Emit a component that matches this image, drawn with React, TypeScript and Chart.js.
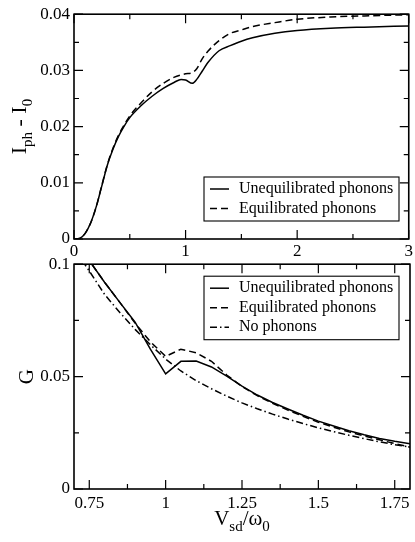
import React, { useEffect, useRef } from "react";
import { Chart, registerables } from "chart.js";
Chart.register(...registerables);

// ---------- data: top panel (I_ph - I_0 vs V_sd/omega_0) ----------
const topX = [0, 0.05, 0.1, 0.15, 0.2, 0.25, 0.3, 0.35, 0.4, 0.45, 0.5, 0.6, 0.7, 0.8, 0.9, 0.96, 1.0, 1.06, 1.1, 1.15, 1.2, 1.3, 1.4, 1.5, 1.6, 1.8, 2.0, 2.3, 2.6, 3.0];
const topUneq = [0, 0.0001, 0.001, 0.0029, 0.0058, 0.0095, 0.0132, 0.016, 0.0183, 0.0201, 0.0216, 0.0237, 0.0254, 0.0268, 0.0279, 0.0284, 0.0283, 0.0277, 0.0284, 0.0299, 0.0314, 0.0335, 0.0344, 0.0352, 0.0358, 0.0366, 0.0371, 0.0375, 0.0377, 0.0379];
const topEq = [0, 0.0001, 0.001, 0.0029, 0.0058, 0.0096, 0.0133, 0.0162, 0.0185, 0.0203, 0.0219, 0.0242, 0.0262, 0.0277, 0.0288, 0.0292, 0.0294, 0.0296, 0.0303, 0.0321, 0.0334, 0.0353, 0.0366, 0.0372, 0.0378, 0.0385, 0.0391, 0.0395, 0.0397, 0.0399];

// ---------- data: bottom panel (G vs V_sd/omega_0) ----------
const botX = [0.7, 0.75, 0.8, 0.85, 0.9, 0.95, 1.0, 1.05, 1.1, 1.15, 1.2, 1.25, 1.3, 1.35, 1.4, 1.45, 1.5, 1.55, 1.6, 1.65, 1.7, 1.75, 1.8];
const botUneq = [0.112, 0.1016, 0.092, 0.083, 0.0742, 0.0622, 0.0512, 0.0568, 0.0569, 0.0543, 0.0502, 0.0458, 0.0418, 0.0385, 0.0356, 0.0328, 0.0302, 0.028, 0.0259, 0.0241, 0.0225, 0.0212, 0.0201];
const botEq = [0.112, 0.1016, 0.092, 0.083, 0.0738, 0.0655, 0.059, 0.0622, 0.0606, 0.0568, 0.0507, 0.0456, 0.0415, 0.0381, 0.0351, 0.0323, 0.0297, 0.0275, 0.0254, 0.0236, 0.0219, 0.0202, 0.0186];
const botNone = [0.107, 0.097, 0.0866, 0.0785, 0.071, 0.0642, 0.0578, 0.0525, 0.0482, 0.0446, 0.0413, 0.0383, 0.0357, 0.0333, 0.0311, 0.0291, 0.0272, 0.0255, 0.0239, 0.0224, 0.021, 0.0197, 0.0186];

// ---------- ticks ----------
const topXTicks = [0, 1, 2, 3];
const topXLabels = ["0", "1", "2", "3"];
const topXMinor = [0.5, 1.5, 2.5];
const topYTicks = [0, 0.01, 0.02, 0.03, 0.04];
const topYLabels = ["0", "0.01", "0.02", "0.03", "0.04"];
const topYMinor = [0.005, 0.015, 0.025, 0.035];
const botXTicks = [0.75, 1, 1.25, 1.5, 1.75];
const botXLabels = ["0.75", "1", "1.25", "1.5", "1.75"];
const botXMinor = [0.875, 1.125, 1.375, 1.625];
const botYTicks = [0, 0.05, 0.1];
const botYLabels = ["0", "0.05", "0.1"];
const botYMinor = [0.025, 0.075];

const seriesNames = ["Unequilibrated phonons", "Equilibrated phonons", "No phonons"];
const seriesDash: number[][] = [[], [7, 4], [7, 3, 1.5, 3]];

const FONT = "'Liberation Serif', 'Times New Roman', Times, serif";
Chart.defaults.font.family = FONT;
Chart.defaults.color = "#000";

type Part = { t: string; sub?: boolean };

function drawRich(ctx: CanvasRenderingContext2D, parts: Part[], x: number, y: number, size: number, subSize: number, drop: number) {
  const widths = parts.map((p) => {
    ctx.font = `${p.sub ? subSize : size}px ${FONT}`;
    return ctx.measureText(p.t).width;
  });
  const total = widths.reduce((a, b) => a + b, 0);
  let cx = x - total / 2;
  ctx.textAlign = "left";
  ctx.textBaseline = "alphabetic";
  parts.forEach((p, i) => {
    ctx.font = `${p.sub ? subSize : size}px ${FONT}`;
    ctx.fillText(p.t, cx, y + (p.sub ? drop : 0));
    cx += widths[i];
  });
}

type Cfg = {
  xs: number[];
  series: number[][];
  smooth: boolean;
  xMin: number; xMax: number; yMin: number; yMax: number;
  xTicks: number[]; xLabels: string[]; xMinor: number[];
  yTicks: number[]; yLabels: string[]; yMinor: number[];
  xAxisH: number; xPad: number;
  legendTop: (a: any) => number;
  yTitle: { parts: Part[]; size: number; sub: number; drop: number; bx: number };
  xTitle?: { parts: Part[]; size: number; sub: number; drop: number; by: number };
};

function build(canvas: HTMLCanvasElement, cfg: Cfg) {
  const framePlugin = {
    id: "frameTicks",
    afterDraw(chart: any) {
      const ctx: CanvasRenderingContext2D = chart.ctx;
      const a = chart.chartArea;
      const sx = chart.scales.x;
      const sy = chart.scales.y;
      ctx.save();
      ctx.strokeStyle = "#000";
      ctx.fillStyle = "#000";
      ctx.lineWidth = 1.6;
      ctx.setLineDash([]);
      ctx.strokeRect(a.left, a.top, a.right - a.left, a.bottom - a.top);
      ctx.lineWidth = 1.2;
      const drawX = (vals: number[], len: number) => {
        vals.forEach((v) => {
          const px = sx.getPixelForValue(v);
          ctx.beginPath();
          ctx.moveTo(px, a.bottom);
          ctx.lineTo(px, a.bottom - len);
          ctx.moveTo(px, a.top);
          ctx.lineTo(px, a.top + len);
          ctx.stroke();
        });
      };
      const drawY = (vals: number[], len: number) => {
        vals.forEach((v) => {
          const py = sy.getPixelForValue(v);
          ctx.beginPath();
          ctx.moveTo(a.left, py);
          ctx.lineTo(a.left + len, py);
          ctx.moveTo(a.right, py);
          ctx.lineTo(a.right - len, py);
          ctx.stroke();
        });
      };
      drawX(cfg.xTicks, 9);
      drawX(cfg.xMinor, 5);
      drawY(cfg.yTicks, 9);
      drawY(cfg.yMinor, 5);

      // legend
      const n = cfg.series.length;
      const rowH = 19.5;
      const bx = 204, bw = 195;
      const by = cfg.legendTop(a);
      const bh = n * rowH + 5;
      ctx.lineWidth = 1.1;
      ctx.strokeRect(bx, by, bw, bh);
      ctx.font = `16px ${FONT}`;
      ctx.textBaseline = "middle";
      ctx.textAlign = "left";
      for (let i = 0; i < n; i++) {
        const cy = by + 12 + i * rowH;
        ctx.lineWidth = 1.5;
        ctx.setLineDash(seriesDash[i]);
        ctx.beginPath();
        ctx.moveTo(210, cy);
        ctx.lineTo(229, cy);
        ctx.stroke();
        ctx.setLineDash([]);
        ctx.fillText(seriesNames[i], 239, cy);
      }

      // titles
      const yt = cfg.yTitle;
      ctx.save();
      ctx.translate(yt.bx, (a.top + a.bottom) / 2);
      ctx.rotate(-Math.PI / 2);
      drawRich(ctx, yt.parts, 0, 0, yt.size, yt.sub, yt.drop);
      ctx.restore();
      if (cfg.xTitle) {
        const xt = cfg.xTitle;
        drawRich(ctx, xt.parts, (a.left + a.right) / 2, xt.by, xt.size, xt.sub, xt.drop);
      }
      ctx.restore();
    },
  };

  const datasets = cfg.series.map((s, i) => ({
    label: seriesNames[i],
    data: cfg.xs.map((x, j) => ({ x, y: s[j] })),
    borderColor: "#000",
    backgroundColor: "#000",
    borderWidth: 1.5,
    borderDash: seriesDash[i],
    pointRadius: 0,
    fill: false,
    tension: cfg.smooth ? 0.4 : 0,
    cubicInterpolationMode: cfg.smooth ? "monotone" : "default",
  }));

  const tickFont = { family: FONT, size: 17, style: "normal", weight: "normal" };

  return new Chart(canvas, {
    type: "line",
    data: { datasets } as any,
    plugins: [framePlugin],
    options: {
      responsive: false,
      animation: false,
      layout: { padding: { top: 13, right: 5, left: 0, bottom: 0 } },
      plugins: { legend: { display: false }, tooltip: { enabled: false } },
      scales: {
        x: {
          type: "linear",
          min: cfg.xMin,
          max: cfg.xMax,
          grid: { display: false, drawTicks: false },
          border: { display: false },
          afterBuildTicks: (s: any) => { s.ticks = cfg.xTicks.map((v) => ({ value: v })); },
          afterFit: (s: any) => { s.height = cfg.xAxisH; },
          ticks: {
            autoSkip: false,
            maxRotation: 0,
            padding: cfg.xPad,
            color: "#000",
            font: tickFont,
            callback: (v: any) => { const i = cfg.xTicks.indexOf(Number(v)); return i >= 0 ? cfg.xLabels[i] : ""; },
          },
        },
        y: {
          type: "linear",
          min: cfg.yMin,
          max: cfg.yMax,
          grid: { display: false, drawTicks: false },
          border: { display: false },
          afterBuildTicks: (s: any) => { s.ticks = cfg.yTicks.map((v) => ({ value: v })); },
          afterFit: (s: any) => { s.width = 74; },
          ticks: {
            autoSkip: false,
            padding: 4,
            color: "#000",
            font: tickFont,
            callback: (v: any) => { const i = cfg.yTicks.indexOf(Number(v)); return i >= 0 ? cfg.yLabels[i] : ""; },
          },
        },
      },
    } as any,
  });
}

export default function App() {
  const topRef = useRef<HTMLCanvasElement>(null);
  const botRef = useRef<HTMLCanvasElement>(null);

  useEffect(() => {
    const c1 = build(topRef.current!, {
      xs: topX,
      series: [topUneq, topEq],
      smooth: true,
      xMin: 0, xMax: 3, yMin: 0, yMax: 0.04,
      xTicks: topXTicks, xLabels: topXLabels, xMinor: topXMinor,
      yTicks: topYTicks, yLabels: topYLabels, yMinor: topYMinor,
      xAxisH: 23, xPad: 2,
      legendTop: (a: any) => a.bottom - 62,
      yTitle: { parts: [{ t: "I" }, { t: "ph", sub: true }, { t: " - I" }, { t: "0", sub: true }], size: 22, sub: 15, drop: 6, bx: 26 },
    });
    const c2 = build(botRef.current!, {
      xs: botX,
      series: [botUneq, botEq, botNone],
      smooth: false,
      xMin: 0.7, xMax: 1.8, yMin: 0, yMax: 0.1,
      xTicks: botXTicks, xLabels: botXLabels, xMinor: botXMinor,
      yTicks: botYTicks, yLabels: botYLabels, yMinor: botYMinor,
      xAxisH: 53, xPad: 4,
      legendTop: (a: any) => a.top + 12,
      yTitle: { parts: [{ t: "G" }], size: 21, sub: 14, drop: 5, bx: 33 },
      xTitle: { parts: [{ t: "V" }, { t: "sd", sub: true }, { t: "/ω" }, { t: "0", sub: true }], size: 21, sub: 15, drop: 6, by: 275 },
    });
    return () => { c1.destroy(); c2.destroy(); };
  }, []);

  return (
    <div style={{ position: "fixed", left: 0, top: 0, width: 415, height: 542, background: "#fff" }}>
      <canvas ref={topRef} width={415} height={262} style={{ position: "absolute", left: 0, top: 0, width: 415, height: 262 }} />
      <canvas ref={botRef} width={415} height={292} style={{ position: "absolute", left: 0, top: 250, width: 415, height: 292 }} />
    </div>
  );
}
